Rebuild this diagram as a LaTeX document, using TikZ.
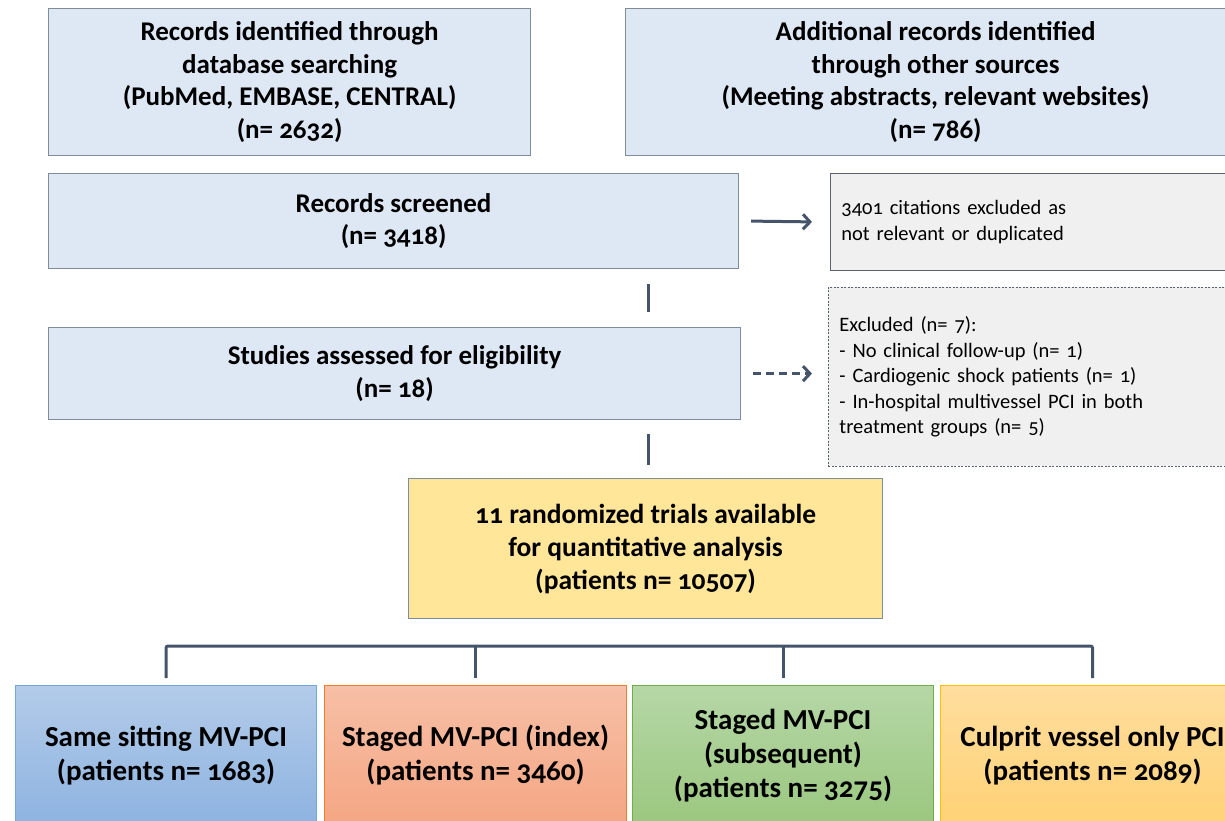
\documentclass[tikz,border=0pt]{standalone}
\usepackage{fontspec}
\setmainfont{Carlito}[Numbers=OldStyle]
\usetikzlibrary{arrows.meta,calc}
\definecolor{boxblue}{HTML}{DEE8F4}
\definecolor{boxedge}{HTML}{7F8C9C}
\definecolor{exfill}{HTML}{F0F0F0}
\definecolor{exedge}{HTML}{5A6270}
\definecolor{yfill}{HTML}{FFE699}
\definecolor{lnk}{HTML}{44546A}
\definecolor{bA}{HTML}{B3CBE9}\definecolor{bB}{HTML}{8DB3E0}\definecolor{bE}{HTML}{6FA6DB}
\definecolor{oA}{HTML}{F7BFA6}\definecolor{oB}{HTML}{F4A683}\definecolor{oE}{HTML}{ED7D31}
\definecolor{gA}{HTML}{B5D7A6}\definecolor{gB}{HTML}{9BC77F}\definecolor{gE}{HTML}{70AD47}
\definecolor{yA}{HTML}{FFDD9E}\definecolor{yB}{HTML}{FFD275}\definecolor{yE}{HTML}{FFC000}
\tikzset{
  base/.style={anchor=north west, inner sep=0pt, align=center, line width=1.2pt},
  mainbox/.style={base, draw=boxedge, fill=boxblue,
    font=\bfseries\fontsize{27}{32.5}\selectfont},
  exbox/.style={base, draw=exedge, fill=exfill, align=left, inner xsep=11pt,
    line width=0.8pt, font=\fontsize{20.5}{25.5}\selectfont},
  trialbox/.style={base, draw=boxedge, fill=yfill,
    font=\bfseries\fontsize{27.5}{33}\selectfont},
  armbox/.style={base, line width=1pt, font=\bfseries\fontsize{29}{34}\selectfont},
  link/.style={draw=lnk, line width=3pt},
  arr/.style={link, -{Straight Barb[length=7pt,width=15pt,line width=3pt]}},
}
\begin{document}
\begin{tikzpicture}[x=1pt,y=-1pt]
\useasboundingbox (0,0) rectangle (1225,821);
\clip (0,0) rectangle (1225,821);
% top row
\node[mainbox, minimum width=482, minimum height=147] (db) at (48,8)
  {Records identified through\\database searching\\(PubMed, EMBASE, CENTRAL)\\(n= 2632)};
\node[mainbox, minimum width=620, minimum height=147] (oth) at (625,8)
  {Additional records identified\\through other sources\\(Meeting abstracts, relevant websites)\\(n= 786)};
% screened
\node[mainbox, minimum width=690, minimum height=95] (rs) at (48,173)
  {Records screened\\(n= 3418)};
\node[exbox, minimum width=420, minimum height=97, text width=398] (ex1) at (830,173)
  {3401 citations excluded as\\not relevant or duplicated};
% eligibility
\node[mainbox, minimum width=692, minimum height=92] (st) at (48,327)
  {Studies assessed for eligibility\\(n= 18)};
\node[exbox, dashed, dash pattern=on 2pt off 1.5pt, minimum width=420, minimum height=179, text width=398] (ex2) at (828,287)
  {Excluded (n= 7):\\- No clinical follow-up (n= 1)\\- Cardiogenic shock patients (n= 1)\\- In-hospital multivessel PCI in both\\treatment groups (n= 5)};
% trials
\node[trialbox, minimum width=474, minimum height=140] (yb) at (408,478)
  {11 randomized trials available\\for quantitative analysis\\(patients n= 10507)};
% arms
\node[armbox, draw=bE, top color=bA, bottom color=bB, minimum width=301, minimum height=140] (b1) at (15,685)
  {Same sitting MV-PCI\\(patients n= 1683)};
\node[armbox, draw=oE, top color=oA, bottom color=oB, minimum width=302, minimum height=140] (b2) at (324,685)
  {Staged MV-PCI (index)\\(patients n= 3460)};
\node[armbox, draw=gE, top color=gA, bottom color=gB, minimum width=301, minimum height=140] (b3) at (632,685)
  {Staged MV-PCI\\(subsequent)\\(patients n= 3275)};
\node[armbox, draw=yE, top color=yA, bottom color=yB, minimum width=304, minimum height=140] (b4) at (940,685)
  {Culprit vessel only PCI\\(patients n= 2089)};
% connectors
\draw[arr] ([xshift=12]rs.east) -- ([xshift=-18]ex1.west);
\draw[arr, dash pattern=on 8pt off 5pt] ([xshift=12]st.east) -- ([xshift=-16]ex2.west |- st.east);
\draw[link] ($(rs.south -| yb.north)+(3,15)$) -- ($(st.north -| yb.north)+(3,-15)$);
\draw[link] ($(st.south -| yb.north)+(3,14)$) -- ($(yb.north)+(3,-13)$);
\coordinate (bar) at (0,646);
\draw[link, rounded corners=2pt] ([yshift=7]b1.north) -- (b1.north |- bar) -- (b4.north |- bar) -- ([yshift=7]b4.north);
\draw[link] ([yshift=7]b2.north) -- (b2.north |- bar);
\draw[link] ([yshift=7]b3.north) -- (b3.north |- bar);
\end{tikzpicture}
\end{document}
